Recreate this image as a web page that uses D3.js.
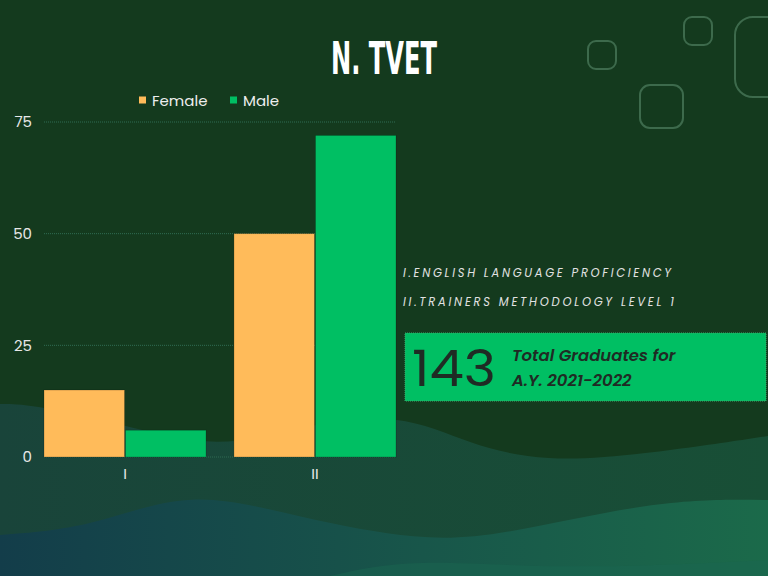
<!DOCTYPE html>
<html>
<head>
<meta charset="utf-8">
<script src="https://cdn.jsdelivr.net/npm/d3@7"></script>
<style>
  body { margin: 0; background: #143a1e; }
  svg { display: block; }
</style>
</head>
<body>
<div class="container"></div>
<script>
const categories = ["I", "II"];
const seriesNames = ["Female", "Male"];
const femaleValues = [15, 50];
const maleValues = [6, 72];
const yTicks = [0, 25, 50, 75];
const courseLabels = ["I.ENGLISH LANGUAGE PROFICIENCY", "II.TRAINERS METHODOLOGY LEVEL 1"];
const totalValue = 143;
const totalLines = ["Total Graduates for", "A.Y. 2021-2022"];

const width = 768, height = 576;
const margin = {top: 122, right: 372, bottom: 119, left: 44};
const colors = {Female: "#ffbb5a", Male: "#00bf63"};
const sans = "Poppins, 'Noto Sans', sans-serif";

const svg = d3.select(".container")
  .append("svg")
    .attr("width", width)
    .attr("height", height);

// background
const defs = svg.append("defs");
const g1 = defs.append("linearGradient").attr("id", "wave1");
g1.append("stop").attr("offset", "0%").attr("stop-color", "#19443a");
g1.append("stop").attr("offset", "100%").attr("stop-color", "#184f36");
const g2 = defs.append("linearGradient").attr("id", "wave2");
g2.append("stop").attr("offset", "0%").attr("stop-color", "#133d4a");
g2.append("stop").attr("offset", "55%").attr("stop-color", "#18564a");
g2.append("stop").attr("offset", "100%").attr("stop-color", "#1b6a4a");

svg.append("rect").attr("width", width).attr("height", height).attr("fill", "#143a1e");

const wave = d3.area().curve(d3.curveBasis).x(d => d[0]).y0(d => d[1]).y1(height);
svg.append("path")
  .datum([[0,404],[30,404],[120,424],[220,450],[300,426],[400,412],[470,445],[545,462],[640,455],[768,436]])
  .attr("fill", "url(#wave1)")
  .attr("d", wave);
svg.append("path")
  .datum([[0,535],[90,528],[190,488],[300,518],[420,541],[500,536],[660,499],[768,500]])
  .attr("fill", "url(#wave2)")
  .attr("d", wave);
svg.append("path")
  .datum([[330,576],[410,558],[560,570],[768,560]])
  .attr("fill", "#1a6650").attr("opacity", 0.5)
  .attr("d", wave);

// decorative rounded squares
const deco = [[588,41,28,28,8],[684,17,28,28,8],[640,85,43,43,10],[735,17,60,80,18]];
svg.selectAll(".deco").data(deco).enter().append("rect")
  .attr("x", d => d[0]).attr("y", d => d[1])
  .attr("width", d => d[2]).attr("height", d => d[3])
  .attr("rx", d => d[4])
  .attr("fill", "none").attr("stroke", "#3d6a4c").attr("stroke-width", 2);

// title
svg.append("text")
  .attr("x", 384).attr("y", 74)
  .attr("text-anchor", "middle")
  .attr("font-family", "'Liberation Sans Narrow', 'DejaVu Sans Condensed', sans-serif")
  .attr("font-weight", "bold")
  .attr("font-size", 44)
  .attr("textLength", 106).attr("lengthAdjust", "spacingAndGlyphs")
  .attr("fill", "#ffffff")
  .text("N. TVET");

// scales
const x0 = d3.scaleBand().domain(categories)
  .range([margin.left, width - margin.right])
  .paddingInner(0.147).paddingOuter(0);
const x1 = d3.scaleBand().domain(seriesNames)
  .range([0, x0.bandwidth()]).paddingInner(0.012);
const y = d3.scaleLinear().domain([0, 75]).range([height - margin.bottom, margin.top]);

// grid
svg.selectAll(".grid").data(yTicks).enter().append("line")
  .attr("x1", margin.left).attr("x2", width - margin.right)
  .attr("y1", d => y(d)).attr("y2", d => y(d))
  .attr("stroke", "#2f6b52").attr("stroke-width", 1)
  .attr("stroke-dasharray", "1,1");

// y axis
const yAxis = svg.append("g")
  .attr("transform", `translate(${margin.left - 12},0)`)
  .call(d3.axisLeft(y).tickValues(yTicks).tickSize(0).tickPadding(0));
yAxis.select(".domain").remove();
yAxis.selectAll("text")
  .attr("fill", "#e8e8e8")
  .attr("font-family", sans)
  .attr("font-size", 15);

// x axis
const xAxis = svg.append("g")
  .attr("transform", `translate(0,${height - margin.bottom + 11})`)
  .call(d3.axisBottom(x0).tickSize(0).tickPadding(0));
xAxis.select(".domain").remove();
xAxis.selectAll("text")
  .attr("fill", "#e8e8e8")
  .attr("font-family", sans)
  .attr("font-size", 15);

// bars
const rows = categories.map((c, i) => ({cat: c, Female: femaleValues[i], Male: maleValues[i]}));
svg.selectAll(".group").data(rows).enter().append("g")
  .attr("transform", d => `translate(${x0(d.cat)},0)`)
  .selectAll("rect")
  .data(d => seriesNames.map(k => ({key: k, value: d[k]})))
  .enter().append("rect")
    .attr("x", d => x1(d.key))
    .attr("y", d => y(d.value))
    .attr("width", x1.bandwidth())
    .attr("height", d => y(0) - y(d.value))
    .attr("fill", d => colors[d.key])
    .attr("stroke", "rgba(0,0,0,0.25)").attr("stroke-width", 0.8);

// legend
const legend = svg.append("g").attr("transform", "translate(139,100)");
const legendX = [0, 91];
seriesNames.forEach((k, i) => {
  legend.append("rect")
    .attr("x", legendX[i]).attr("y", -3.5)
    .attr("width", 7).attr("height", 7)
    .attr("fill", colors[k]);
  legend.append("text")
    .attr("x", legendX[i] + 13).attr("y", 5.5)
    .attr("fill", "#eeeeee")
    .attr("font-family", sans)
    .attr("font-size", 15)
    .text(k);
});

// course labels
svg.selectAll(".course").data(courseLabels).enter().append("text")
  .attr("x", 403)
  .attr("y", (d, i) => 277 + i * 29)
  .attr("fill", "#e2e2e2")
  .attr("font-family", sans)
  .attr("font-style", "italic")
  .attr("font-size", 11.5)
  .attr("textLength", (d, i) => i === 0 ? 268 : 271)
  .attr("lengthAdjust", "spacing")
  .text(d => d);

// total box
svg.append("rect")
  .attr("x", 405).attr("y", 333)
  .attr("width", 361).attr("height", 68)
  .attr("fill", "#00bf63")
  .attr("stroke", "#3aa86a").attr("stroke-width", 1).attr("stroke-dasharray", "1,1");
svg.append("text")
  .attr("x", 412).attr("y", 386)
  .attr("fill", "#1f2b24")
  .attr("font-family", sans)
  .attr("font-weight", 400)
  .attr("font-size", 50)
  .attr("textLength", 84).attr("lengthAdjust", "spacingAndGlyphs")
  .text(totalValue);
svg.selectAll(".total").data(totalLines).enter().append("text")
  .attr("x", 512)
  .attr("y", (d, i) => 361 + i * 25)
  .attr("fill", "#1f2b24")
  .attr("font-family", sans)
  .attr("font-style", "italic")
  .attr("font-weight", 600)
  .attr("font-size", 16.5)
  .text(d => d);
</script>
</body>
</html>
